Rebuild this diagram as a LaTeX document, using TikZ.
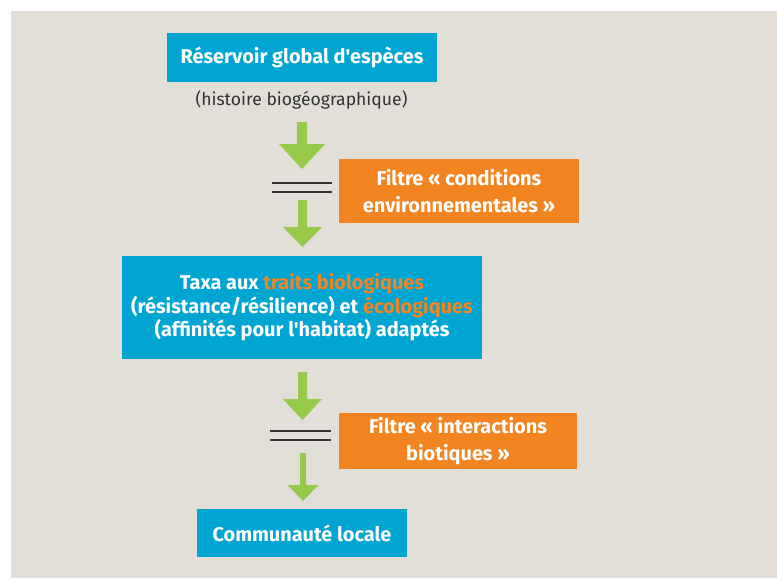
\documentclass[tikz,border=0pt]{standalone}
\usepackage{fontspec}
\setmainfont{Fira Sans}[Ligatures=TeXOff]
\usepackage{xcolor}
\definecolor{bgbeige}{HTML}{E2DED8}
\definecolor{boxblue}{HTML}{00A6D1}
\definecolor{filtorange}{HTML}{F28422}
\definecolor{arrgreen}{HTML}{97C94B}
\definecolor{bardark}{HTML}{333333}

\begin{document}
\begin{tikzpicture}[x=0.03cm,y=-0.03cm,
	boxtext/.style={text=white, font=\bfseries\fontsize{17}{20}\selectfont, align=center, inner sep=0pt},
	bluebox/.style={boxtext, fill=boxblue},
	filtbox/.style={boxtext, fill=filtorange, font=\bfseries\fontsize{17}{23}\selectfont}]
\useasboundingbox (0,0) rectangle (777,578);
\fill[bgbeige] (11,11) rectangle (777,578);

\node[bluebox, minimum width=8.1cm, minimum height=1.47cm] (reservoir) at (302,57.5) {Réservoir global d'espèces};
\node[text=bardark, font=\fontsize{15}{18}\selectfont, inner sep=0pt] (histoire) at (301.5,100) {(histoire biogéographique)};
\node[filtbox, minimum width=7.2cm, minimum height=1.92cm] (filtreenv) at (459,191) {Filtre « conditions\\environnementales »};
\node[bluebox, minimum width=10.8cm, minimum height=3.09cm] (taxa) at (302,307.5) {Taxa aux \textcolor{filtorange}{traits biologiques}\\(résistance/résilience) et \textcolor{filtorange}{écologiques}\\(affinités pour l'habitat) adaptés};
\node[filtbox, minimum width=7.14cm, minimum height=1.68cm] (filtrebio) at (458,441) {Filtre « interactions\\biotiques »};
\node[bluebox, minimum width=6.3cm, minimum height=1.44cm] (communaute) at (302,533) {Communauté locale};

% fleches vertes : x / haut / base de la pointe / pointe / demi-tige / demi-pointe
\foreach \x/\t/\b/\p/\s/\h in {302/122/144/169/5/23, 302.5/200/227/247/4.5/19.5,
		302.5/372/399/420/4.5/19.5, 303/453/485/501/3/15.5} {
\fill[arrgreen] (\x-\s,\t) -- (\x+\s,\t) -- (\x+\s,\b) -- (\x+\h,\b) -- (\x,\p) -- (\x-\h,\b) -- (\x-\s,\b) -- cycle;
}

% barres du filtre
\foreach \y/\l/\r in {183/272/332, 192/272/332, 431/270/331, 440/270/331}
	\draw[bardark, line width=1.4pt] (\l,\y) -- (\r,\y);
\end{tikzpicture}
\end{document}
